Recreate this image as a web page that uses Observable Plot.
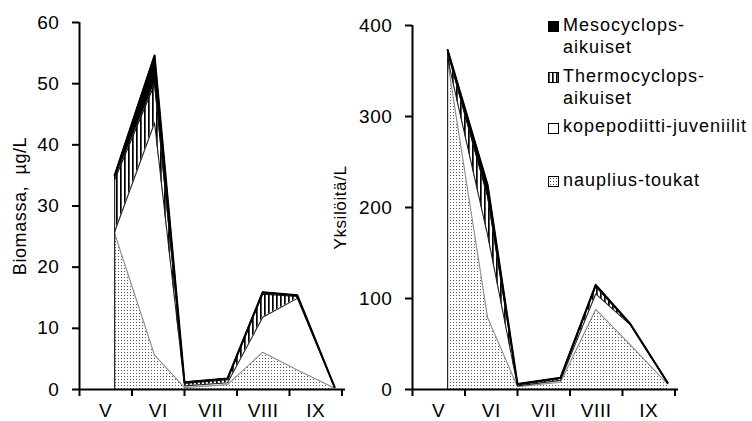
<!DOCTYPE html>
<html>
<head>
<meta charset="utf-8">
<script src="https://cdn.jsdelivr.net/npm/d3@7"></script>
<script src="https://cdn.jsdelivr.net/npm/@observablehq/plot@0.6"></script>
<style>
  html, body { margin: 0; padding: 0; background: white; }
  #wrap { position: relative; width: 752px; height: 421px; overflow: hidden; background: white;
          font-family: "Liberation Sans", Arial, sans-serif; }
  #wrap svg { position: absolute; top: 0; }
</style>
</head>
<body>
<svg width="0" height="0" style="position:absolute">
  <defs>
    <pattern id="dots" patternUnits="userSpaceOnUse" width="3" height="3">
      <rect width="3" height="3" fill="white"/>
      <rect x="1" y="1" width="1" height="1" fill="#555"/>
    </pattern>
    <pattern id="stripes" patternUnits="userSpaceOnUse" width="4" height="4">
      <rect width="4" height="4" fill="white"/>
      <rect x="0" y="0" width="1.7" height="4" fill="black"/>
    </pattern>
  </defs>
</svg>
<div id="wrap"></div>
<script>
// ---- data ----
const months = ["V", "VI", "VII", "VIII", "IX"];
// sampling dates, in months from the start of May
const sampleMonth = [0.67, 1.43, 2.0, 2.82, 3.49, 4.15, 4.86];
const series = ["nauplius-toukat", "kopepodiitti-juveniilit", "Thermocyclops-aikuiset", "Mesocyclops-aikuiset"];

// biomass, µg/L
const biomassNauplius = [25.5, 5.6, 0.3, 0.8, 6.1, 3.2, 0.2];
const biomassKope     = [0.3, 38.0, 0.3, 0.3, 5.7, 11.7, 0.1];
const biomassThermo   = [8.5, 6.3, 0.4, 0.5, 3.8, 0.3, 0.05];
const biomassMeso     = [0.7, 4.7, 0.2, 0.2, 0.3, 0.2, 0.05];

// individuals / L
const countNauplius = [360, 79, 3, 8, 88, 49, 6];
const countKope     = [3, 91, 1, 2, 17, 22, 1];
const countThermo   = [7, 42, 1, 2, 8, 0.5, 0.3];
const countMeso     = [3, 13, 1, 1, 2, 0.5, 0.2];

const biomassTicks = [0, 10, 20, 30, 40, 50, 60];
const countTicks = [0, 100, 200, 300, 400];
const legendLines = [["Mesocyclops-", "aikuiset"], ["Thermocyclops-", "aikuiset"], ["kopepodiitti-juveniilit"], ["nauplius-toukat"]];

// ---- styles ----
const fillOf = {
  "nauplius-toukat": "url(#dots)",
  "kopepodiitti-juveniilit": "white",
  "Thermocyclops-aikuiset": "url(#stripes)",
  "Mesocyclops-aikuiset": "black"
};
const strokeOf = {
  "nauplius-toukat": "#8a8a8a",
  "kopepodiitti-juveniilit": "#222",
  "Thermocyclops-aikuiset": "#111",
  "Mesocyclops-aikuiset": "black"
};

function table(cols) {
  return sampleMonth.flatMap((m, i) => series.map((s, j) => ({month: m, series: s, value: cols[j][i]})));
}

function chart(cols, yMax, yTicks, label, o) {
  const data = table(cols);
  const total0 = cols.reduce((a, c) => a + c[0], 0);
  return Plot.plot({
    width: o.width, height: 421,
    marginLeft: o.ml, marginRight: o.mr, marginTop: o.mt, marginBottom: 32,
    style: {fontFamily: "'Liberation Sans', Arial, sans-serif", fontSize: "19px", color: "black",
            background: "none", overflow: "visible", letterSpacing: "0.6px"},
    x: {domain: [0, 5.067]},
    y: {domain: [0, yMax]},
    color: {type: "identity"},
    marks: [
      Plot.areaY(data, Plot.stackY({x: "month", y: "value", z: "series", fill: d => fillOf[d.series], curve: "linear"})),
      Plot.lineY(data, Plot.stackY2({x: "month", y: "value", z: "series", stroke: d => strokeOf[d.series], strokeWidth: 1.1})),
      Plot.lineY(data, Plot.groupX({y: "sum"}, {x: "month", y: "value", stroke: "black", strokeWidth: 2})),
      Plot.ruleX([sampleMonth[0]], {y1: 0, y2: total0, stroke: "black", strokeWidth: 1}),
      Plot.ruleY([0], {stroke: "black", strokeWidth: 2}),
      Plot.ruleX([0], {y1: 0, y2: yMax, stroke: "black", strokeWidth: 2}),
      Plot.axisX({ticks: [0, 1, 2, 3, 4, 5], tickFormat: () => "", tickSize: 7, strokeWidth: 2, label: null}),
      Plot.axisX({ticks: months.map((_, i) => i + 0.5), tickFormat: v => months[Math.floor(v)], tickSize: 0,
                  tickPadding: 14, label: null, fontSize: 19}),
      Plot.axisY({ticks: yTicks, tickSize: 7, tickPadding: 13, strokeWidth: 2, fontSize: 19,
                  label: label, labelAnchor: "center", labelArrow: "none", labelOffset: o.lo})
    ]
  });
}

const wrap = document.getElementById("wrap");
const left = chart([biomassNauplius, biomassKope, biomassThermo, biomassMeso], 60, biomassTicks,
                   "Biomassa,\u00a0 µg/L", {width: 360, ml: 79, mr: 15, mt: 22, lo: 66});
left.style.left = "0px";
wrap.appendChild(left);

const right = chart([countNauplius, countKope, countThermo, countMeso], 400, countTicks,
                    "Yksilöitä/L", {width: 432, ml: 92, mr: 74, mt: 25, lo: 79});
right.style.left = "320px";
wrap.appendChild(right);

// axis title sizes
d3.select(right).selectAll("g[aria-label='y-axis label'] text").style("font-size", "17px");
d3.select(left).selectAll("g[aria-label='y-axis label'] text").style("font-size", "18px");

// legend
const leg = d3.select(wrap).append("svg").attr("width", 752).attr("height", 421)
  .style("left", "0px").style("pointer-events", "none")
  .style("font-family", "'Liberation Sans', Arial, sans-serif").style("font-size", "18px")
  .style("letter-spacing", "1px");
const legendSwatchY = [21, 72, 123, 176];
const legendBase = [[31, 53], [82, 104], [132], [186]];
series.slice().reverse().forEach((s, i) => {
  leg.append("rect").attr("x", 548.5).attr("y", legendSwatchY[i] + 0.5).attr("width", 10).attr("height", 10)
    .attr("fill", fillOf[s]).attr("stroke", "black").attr("stroke-width", 1);
  legendLines[i].forEach((t, k) => {
    leg.append("text").attr("x", 563).attr("y", legendBase[i][k]).attr("fill", "black").text(t);
  });
});
</script>
</body>
</html>
